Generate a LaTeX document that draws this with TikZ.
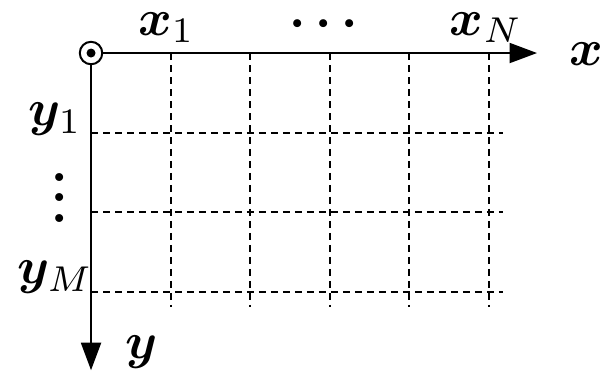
\documentclass[tikz,border=0pt]{standalone}
\usepackage{amsmath,amssymb,bm}
\usepackage{graphicx}
\usetikzlibrary{arrows.meta}
\newcommand{\axlab}[1]{\scalebox{2.05}{$#1$}}

\begin{document}
\begin{tikzpicture}[x=1.118cm, y=1.118cm,
  axis/.style={line width=0.8pt, -{Triangle[length=11pt,width=8pt]}},
  gridline/.style={line width=0.8pt, dash pattern=on 2.8pt off 2pt},
  lbl/.style={inner sep=0pt}
]
  \useasboundingbox (-1.145,0.667) rectangle (6.44,-4.05);
  % dashed grid
  \foreach \i in {1,...,5}
    \draw[gridline] (\i,0) -- (\i,-3.2);
  \foreach \j in {1,2,3}
    \draw[gridline] (0,-\j) -- (5.18,-\j);
  % origin and axes
  \node[circle, draw, fill=white, line width=0.8pt, inner sep=0pt,
        minimum size=9pt] (o) at (0,0) {};
  \fill (o.center) circle (1.8pt);
  \coordinate (xend) at (5.61,0);
  \coordinate (yend) at (0,-3.99);
  \draw[axis] (o.east) -- (xend);
  \draw[axis] (o.south) -- (yend);
  % labels
  \node[lbl] (xlab) at (6.23,-0.01) {\axlab{\bm{x}}};
  \node[lbl] (ylab) at (0.63,-3.76) {\axlab{\bm{y}}};
  \node[lbl] (x1) at (0.95,0.32) {\axlab{\bm{x}_1}};
  \node[lbl] (xdots) at (2.99,0.36) {\axlab{\bm{\cdots}}};
  \node[lbl] (xN) at (4.97,0.32) {\axlab{\bm{x}_N}};
  \node[lbl] (y1) at (-0.45,-0.83) {\axlab{\bm{y}_1}};
  \node[lbl] (ydots) at (-0.39,-1.63) {\axlab{\bm{\vdots}}};
  \node[lbl] (yM) at (-0.45,-2.82) {\axlab{\bm{y}_M}};
\end{tikzpicture}
\end{document}
